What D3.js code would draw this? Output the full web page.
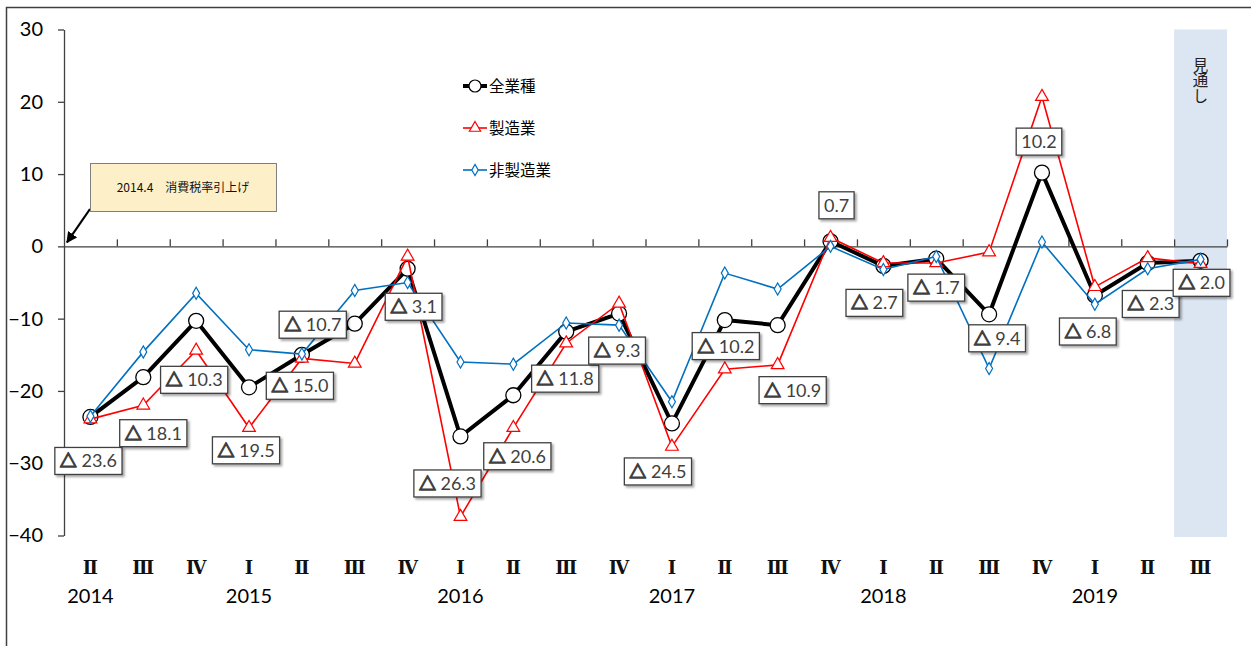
<!DOCTYPE html>
<html>
<head>
<meta charset="utf-8">
<script src="https://cdn.jsdelivr.net/npm/d3@7"></script>
<style>
  body { margin: 0; background: #fff; }
  svg { display: block; }
</style>
</head>
<body>
<div id="chart"></div>
<script>

// chart data (DI, quarterly, 2014 II - 2019 III)
const quarters = ["Ⅱ","Ⅲ","Ⅳ","Ⅰ","Ⅱ","Ⅲ","Ⅳ","Ⅰ","Ⅱ","Ⅲ","Ⅳ","Ⅰ","Ⅱ","Ⅲ","Ⅳ","Ⅰ","Ⅱ","Ⅲ","Ⅳ","Ⅰ","Ⅱ","Ⅲ"];
const years = [
    {index: 0, label: "2014"}, {index: 3, label: "2015"}, {index: 7, label: "2016"},
    {index: 11, label: "2017"}, {index: 15, label: "2018"}, {index: 19, label: "2019"}
];
const allIndustries = [-23.6, -18.1, -10.3, -19.5, -15.0, -10.7, -3.1, -26.3, -20.6, -11.8, -9.3,
    -24.5, -10.2, -10.9, 0.7, -2.7, -1.7, -9.4, 10.2, -6.8, -2.3, -2.0];
const manufacturing = [-23.9, -22.0, -14.4, -25.1, -15.5, -16.2, -1.4, -37.4, -25.1, -13.4, -7.9,
    -27.7, -17.0, -16.4, 1.2, -2.3, -2.3, -0.8, 20.7, -5.6, -1.6, -2.4];
const nonManufacturing = [-23.5, -14.6, -6.5, -14.3, -14.9, -6.1, -5.0, -16.0, -16.3, -10.6, -10.9,
    -21.5, -3.7, -5.9, 0.0, -3.2, -1.4, -16.9, 0.6, -8.0, -3.1, -1.8];
const yTicks = [-40, -30, -20, -10, 0, 10, 20, 30];
const seriesNames = ["全業種", "製造業", "非製造業"];
const forecastLabel = "見通し";
const noteText = "2014.4\u3000消費税率引上げ";

// label box offsets from their point (px)
const labelOffsets = [[-2,44],[10,56],[-2,59],[-3,63],[-2,31],[-42,1],[6,38],[-13,47],[4,61],[-1,47],
    [-2,37],[-14,48],[1,26],[15,65],[6,-36],[-9,37],[0,29],[8,24],[-3,-31],[-7,36],[3,41],[1,22]];

const width = 1251, height = 646;
const plot = {left: 64, right: 1227, top: 29.5, bottom: 535.5};

const svg = d3.select("#chart").append("svg")
    .attr("width", width)
    .attr("height", height);

const defs = svg.append("defs");
const shadow = defs.append("filter").attr("id", "shadow")
    .attr("x", "-20%").attr("y", "-30%").attr("width", "150%").attr("height", "170%");
shadow.append("feDropShadow")
    .attr("dx", 2).attr("dy", 2).attr("stdDeviation", 1.2)
    .attr("flood-color", "#000").attr("flood-opacity", 0.35);

// outer frame
svg.append("rect")
    .attr("x", 6.5).attr("y", 7.5)
    .attr("width", width + 20).attr("height", height + 20)
    .attr("fill", "none").attr("stroke", "#404040").attr("stroke-width", 1.5);

// scales
const x = d3.scaleBand()
    .domain(d3.range(quarters.length))
    .range([plot.left, plot.right]);
const xEdge = d3.scaleLinear()
    .domain([0, quarters.length])
    .range([plot.left, plot.right]);
const y = d3.scaleLinear()
    .domain([-40, 30])
    .range([plot.bottom, plot.top]);
const cx = i => x(i) + x.bandwidth() / 2;

// forecast band (last quarter)
const last = quarters.length - 1;
svg.append("rect")
    .attr("x", x(last)).attr("y", y(30))
    .attr("width", x.bandwidth()).attr("height", y(-40) - y(30) + 1.5)
    .attr("fill", "#dce6f2");

svg.append("text")
    .attr("x", cx(last))
    .attr("y", 57)
    .attr("writing-mode", "vertical-rl")
    .attr("font-family", "'Noto Sans CJK JP', sans-serif")
    .attr("font-size", 15.5)
    .attr("fill", "#222")
    .text(forecastLabel);

// y axis
const yAxis = svg.append("g")
    .attr("transform", `translate(${plot.left},0)`)
    .call(d3.axisLeft(y).tickValues(yTicks).tickSize(6).tickPadding(15).tickSizeOuter(0));
yAxis.select(".domain").attr("stroke", "#404040").attr("stroke-width", 1.3);
yAxis.selectAll(".tick line").attr("stroke", "#404040").attr("stroke-width", 1.3);
yAxis.selectAll(".tick text")
    .attr("font-family", "Lato, 'Open Sans', sans-serif")
    .attr("font-size", 20)
    .attr("fill", "#000");

// zero line with upward ticks at quarter boundaries
const xAxis = svg.append("g")
    .attr("transform", `translate(0,${y(0)})`)
    .call(d3.axisTop(xEdge).tickValues(d3.range(1, quarters.length + 1)).tickSize(7).tickSizeOuter(0).tickFormat(""));
xAxis.select(".domain").attr("stroke", "#404040").attr("stroke-width", 1.3);
xAxis.selectAll(".tick line").attr("stroke", "#404040").attr("stroke-width", 1.3);

// quarter and year labels
svg.append("g")
    .selectAll("text")
    .data(quarters)
    .join("text")
    .attr("x", (d, i) => cx(i))
    .attr("y", 574)
    .attr("text-anchor", "middle")
    .attr("font-family", "'DejaVu Serif', serif")
    .attr("font-weight", "bold")
    .attr("font-size", 18)
    .attr("fill", "#111")
    .text(d => d);

svg.append("g")
    .selectAll("text")
    .data(years)
    .join("text")
    .attr("x", d => cx(d.index))
    .attr("y", 603)
    .attr("text-anchor", "middle")
    .attr("font-family", "Lato, 'Open Sans', sans-serif")
    .attr("font-size", 20)
    .attr("fill", "#000")
    .text(d => d.label);

// series
const line = d3.line().x((d, i) => cx(i)).y(d => y(d));

svg.append("path")
    .datum(allIndustries)
    .attr("d", line)
    .attr("fill", "none").attr("stroke", "#000").attr("stroke-width", 4)
    .attr("stroke-linejoin", "round");
svg.append("g")
    .selectAll("circle")
    .data(allIndustries)
    .join("circle")
    .attr("cx", (d, i) => cx(i)).attr("cy", d => y(d)).attr("r", 7.5)
    .attr("fill", "#fff").attr("stroke", "#000").attr("stroke-width", 1.3);

const triangle = d3.symbol().type(d3.symbolTriangle).size(70);
svg.append("path")
    .datum(manufacturing)
    .attr("d", line)
    .attr("fill", "none").attr("stroke", "#ff0000").attr("stroke-width", 1.6);
svg.append("g")
    .selectAll("path")
    .data(manufacturing)
    .join("path")
    .attr("d", triangle)
    .attr("transform", (d, i) => `translate(${cx(i)},${y(d)})`)
    .attr("fill", "#fff").attr("stroke", "#ff0000").attr("stroke-width", 1.2);

const diamond = d3.symbol().type(d3.symbolDiamond).size(42);
svg.append("path")
    .datum(nonManufacturing)
    .attr("d", line)
    .attr("fill", "none").attr("stroke", "#0070c0").attr("stroke-width", 1.6);
svg.append("g")
    .selectAll("path")
    .data(nonManufacturing)
    .join("path")
    .attr("d", diamond)
    .attr("transform", (d, i) => `translate(${cx(i)},${y(d)})`)
    .attr("fill", "#fff").attr("stroke", "#0070c0").attr("stroke-width", 1.2);

// value labels for 全業種 (△ marks a negative value)
const labels = svg.append("g")
    .selectAll("g")
    .data(allIndustries)
    .join("g")
    .attr("transform", (d, i) => `translate(${cx(i) + labelOffsets[i][0]},${y(d) + labelOffsets[i][1]})`);
labels.append("rect")
    .attr("fill", "#fff").attr("stroke", "#404040").attr("stroke-width", 1.3)
    .attr("filter", "url(#shadow)");
const labelText = labels.append("text")
    .attr("text-anchor", "middle")
    .attr("dy", "0.36em")
    .attr("font-family", "Lato, 'Open Sans', sans-serif")
    .attr("font-size", 18)
    .attr("fill", "#404040");
labelText.filter(d => d < 0).append("tspan")
    .attr("font-family", "'Noto Sans CJK JP', sans-serif")
    .attr("font-weight", "bold")
    .attr("font-size", 17)
    .attr("stroke", "#404040")
    .attr("stroke-width", 1.4)
    .attr("stroke-linejoin", "round")
    .text("△");
labelText.append("tspan")
    .text(d => (d < 0 ? " " : "") + Math.abs(d).toFixed(1));
labels.each(function() {
    const g = d3.select(this);
    const bb = g.select("text").node().getBBox();
    g.select("rect")
        .attr("x", -bb.width / 2 - 5).attr("y", -13.5)
        .attr("width", bb.width + 10).attr("height", 27);
});

// legend
const legendColors = ["#000", "#ff0000", "#0070c0"];
const legend = svg.append("g")
    .selectAll("g")
    .data(seriesNames)
    .join("g")
    .attr("transform", (d, i) => `translate(463,${86 + i * 42})`);
legend.append("line")
    .attr("x1", 0).attr("x2", 24)
    .attr("stroke", (d, i) => legendColors[i])
    .attr("stroke-width", (d, i) => i === 0 ? 4 : 1.6);
legend.each(function(d, i) {
    const g = d3.select(this);
    if (i === 0) {
        g.append("circle").attr("cx", 12).attr("r", 6)
            .attr("fill", "#fff").attr("stroke", "#000").attr("stroke-width", 1.2);
    } else {
        g.append("path")
            .attr("d", (i === 1 ? d3.symbol().type(d3.symbolTriangle).size(55) : d3.symbol().type(d3.symbolDiamond).size(36))())
            .attr("transform", "translate(12,0)")
            .attr("fill", "#fff").attr("stroke", legendColors[i]).attr("stroke-width", 1.2);
    }
});
legend.append("text")
    .attr("x", 26)
    .attr("dy", "0.36em")
    .attr("font-family", "'Noto Sans CJK JP', sans-serif")
    .attr("font-size", 15.5)
    .attr("fill", "#000")
    .text(d => d);

// tax increase note with arrow
defs.append("marker")
    .attr("id", "arrow")
    .attr("viewBox", "0 0 10 10")
    .attr("refX", 9).attr("refY", 5)
    .attr("markerWidth", 5).attr("markerHeight", 5)
    .attr("orient", "auto")
    .append("path").attr("d", "M0,0 L10,5 L0,10 z").attr("fill", "#000");

svg.append("line")
    .attr("x1", 90).attr("y1", 209)
    .attr("x2", xEdge(0) + 3).attr("y2", y(0) - 4)
    .attr("stroke", "#000").attr("stroke-width", 2.2)
    .attr("marker-end", "url(#arrow)");

svg.append("rect")
    .attr("x", 90.5).attr("y", 163.5)
    .attr("width", 186).attr("height", 48)
    .attr("fill", "#fdefc8").attr("stroke", "#7f7f7f").attr("stroke-width", 1);
svg.append("text")
    .attr("x", 183).attr("y", 188)
    .attr("dy", "0.36em")
    .attr("text-anchor", "middle")
    .attr("font-family", "'Noto Sans CJK JP', sans-serif")
    .attr("font-size", 12)
    .attr("fill", "#111")
    .text(noteText);

</script>
</body>
</html>
